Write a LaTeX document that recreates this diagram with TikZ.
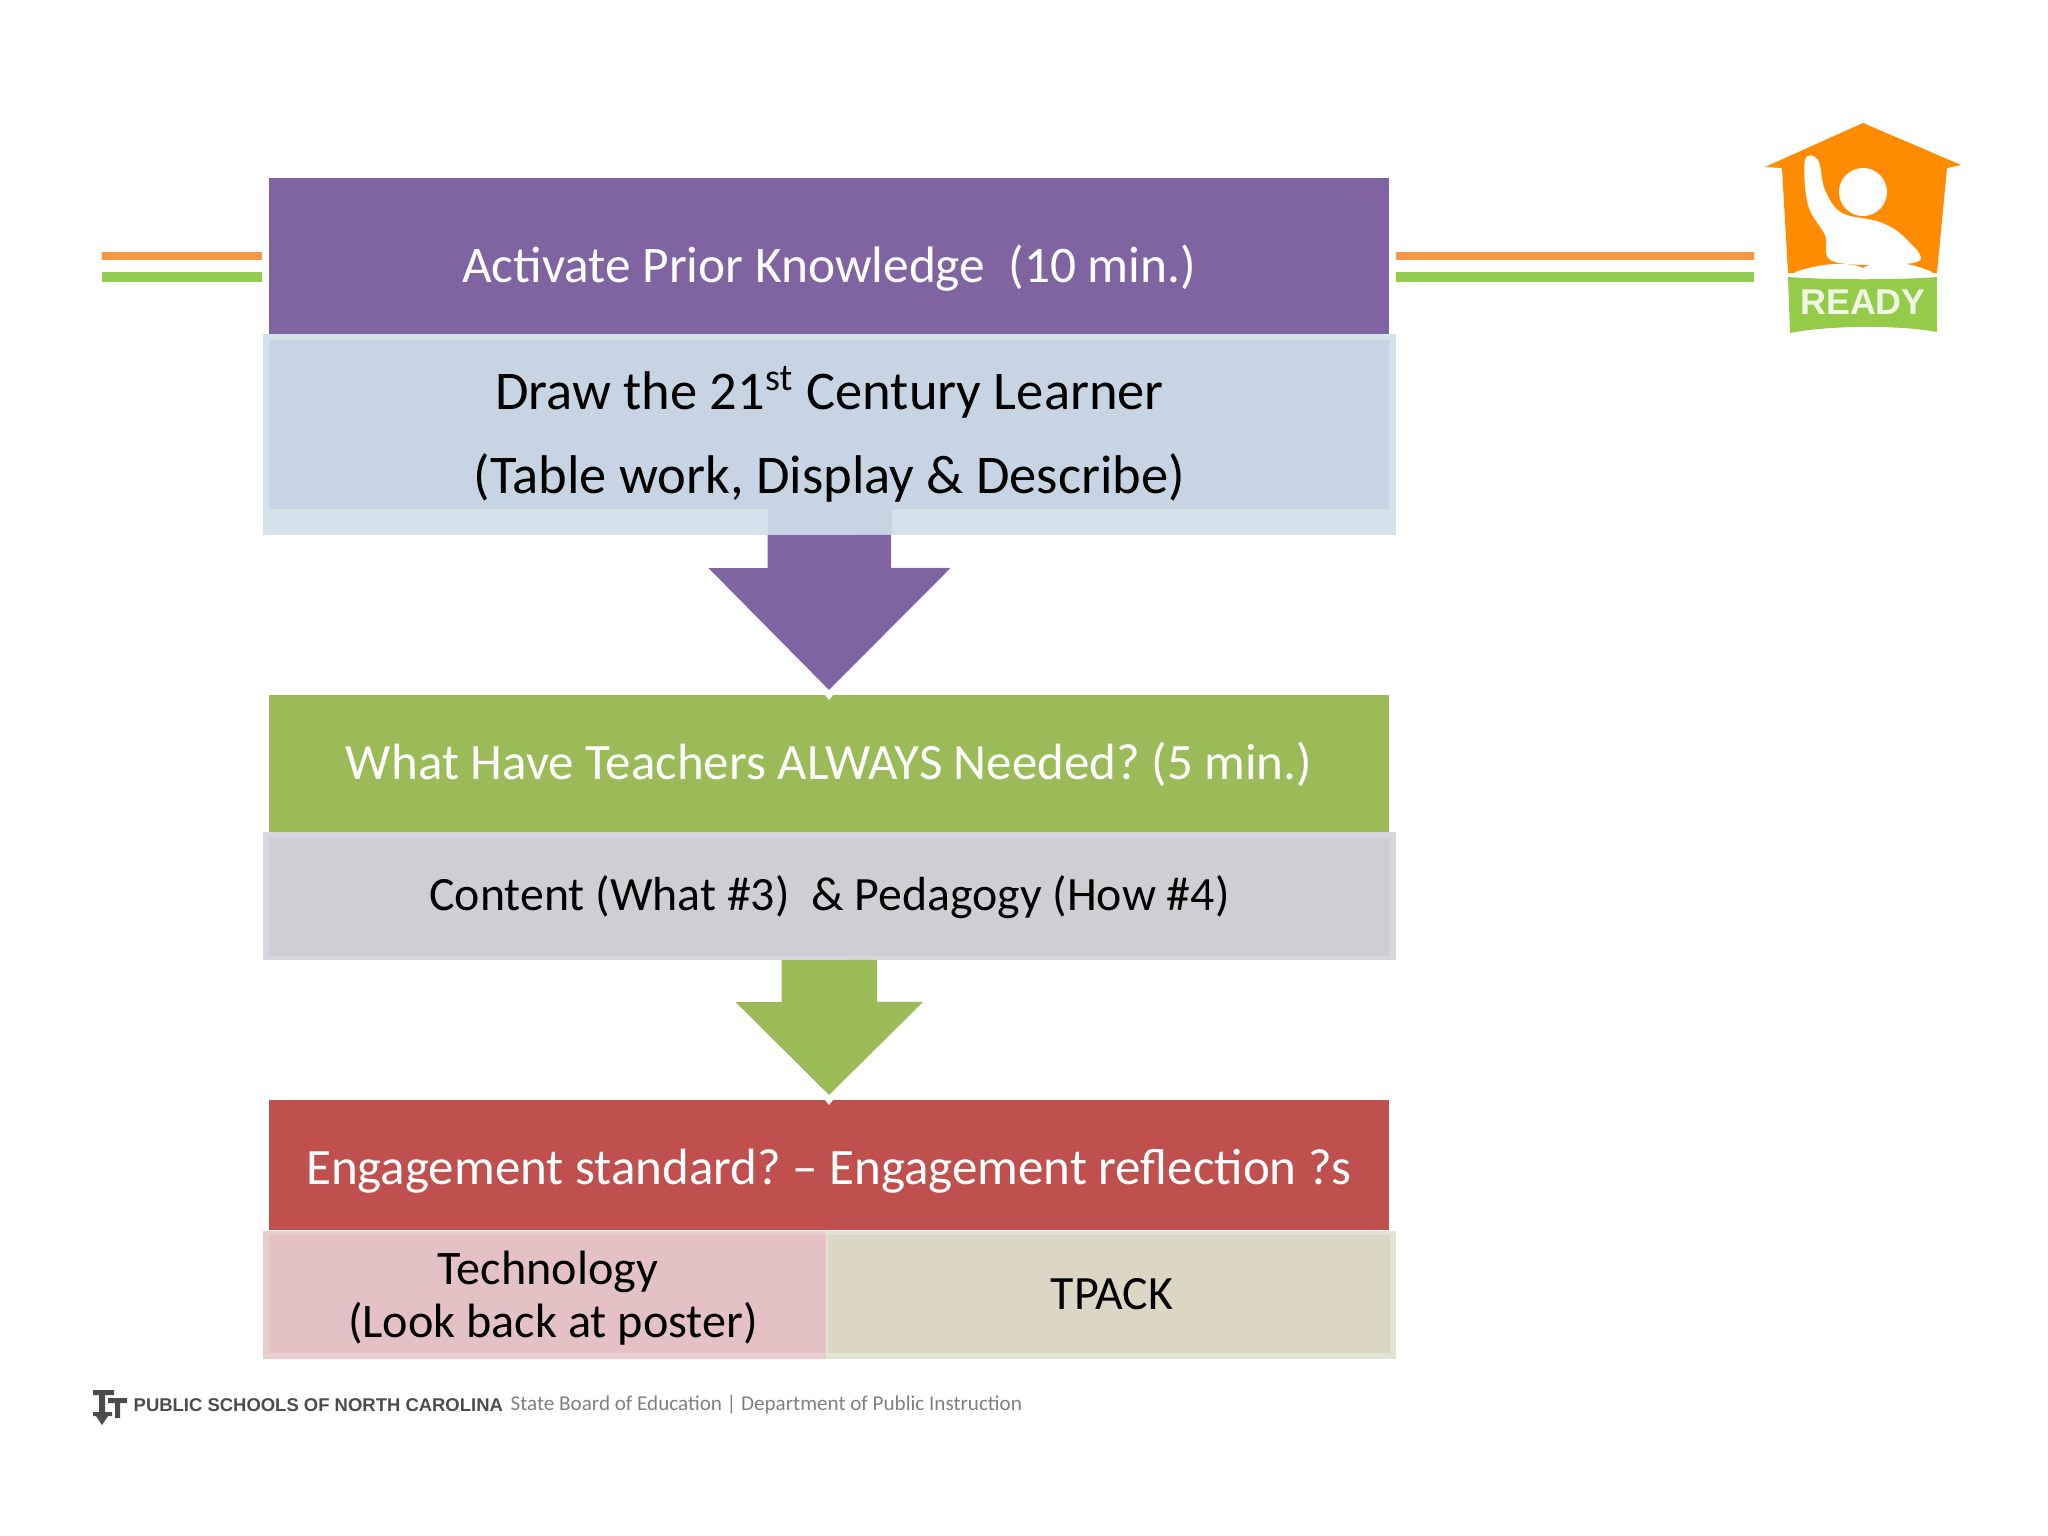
\documentclass[tikz,border=0pt]{standalone}
\usepackage{fontspec}
\setmainfont{Carlito}
\newfontfamily\footfont{Liberation Sans}
\usepackage{tikz}
\usetikzlibrary{calc}
\frenchspacing

\definecolor{phasepurple}{HTML}{8064A2}
\definecolor{phasegreen}{HTML}{9BBB59}
\definecolor{phasered}{HTML}{C0504D}
\definecolor{drawouter}{HTML}{D3E2EB}
\definecolor{drawinner}{HTML}{C7D4E3}
\definecolor{contentouter}{HTML}{D6D6DE}
\definecolor{contentinner}{HTML}{CFCFD3}
\definecolor{techouter}{HTML}{E8CCD0}
\definecolor{techinner}{HTML}{E3C1C4}
\definecolor{tpackouter}{HTML}{DFE5D2}
\definecolor{tpackinner}{HTML}{DCD7C4}
\definecolor{ruleorange}{HTML}{F79646}
\definecolor{rulegreen}{HTML}{92CC50}
\definecolor{logoorange}{HTML}{FF8C00}
\definecolor{logogreen}{HTML}{94CC4A}

\tikzset{
    panel/.style={inner sep=0pt, outer sep=0pt, align=center},
    headbox/.style={panel, text=white, minimum width=11.2cm},
    rule/.style={line width=#1}
}

\begin{document}
\begin{tikzpicture}[x=0.01cm, y=-0.01cm]
        \useasboundingbox (0,0) rectangle (2048,1536);

        % --- RULES ---
        \coordinate (LeftA) at (102,256);
        \coordinate (LeftB) at (262,256);
        \coordinate (LeftC) at (102,277);
        \coordinate (LeftD) at (262,277);
        \coordinate (RightA) at (1396,256);
        \coordinate (RightB) at (1754,256);
        \coordinate (RightC) at (1396,277);
        \coordinate (RightD) at (1754,277);
        \draw[ruleorange, rule=0.08cm] (LeftA) -- (LeftB);
        \draw[rulegreen, rule=0.1cm] (LeftC) -- (LeftD);
        \draw[ruleorange, rule=0.08cm] (RightA) -- (RightB);
        \draw[rulegreen, rule=0.1cm] (RightC) -- (RightD);

        % --- FIRST BLOCK ---
        \node[headbox, fill=phasepurple, minimum height=1.56cm, text height=0.52cm, text depth=0pt, font=\fontsize{14.6}{18}\selectfont] (activate) at (829,256) {Activate Prior Knowledge~ (10 min.)};
        \node[panel, fill=drawouter, minimum width=11.33cm, minimum height=2.01cm] (drawouterbox) at (829.5,434.5) {};
        \node[panel, fill=drawinner, minimum width=11.2cm, minimum height=1.69cm] (drawbox) at (829,424.5) {};
        \node[font=\fontsize{15.5}{23.9}\selectfont, align=center, inner sep=0pt] (drawtext) at (829.5,434.5) {Draw the 21\textsuperscript{st} Century Learner\\(Table work, Display \& Describe)};

        % --- SECOND BLOCK ---
        \node[headbox, fill=phasegreen, minimum height=1.37cm, text height=0.31cm, text depth=0pt, font=\fontsize{14.5}{18}\selectfont] (need) at (829,763.5) {What Have Teachers ALWAYS Needed? (5 min.)};
        \node[panel, fill=contentouter, minimum width=11.33cm, minimum height=1.28cm] (contentouterbox) at (829.5,896) {};
        \node[panel, fill=contentinner, minimum width=11.2cm, minimum height=1.18cm, font=\fontsize{13.6}{16}\selectfont] (content) at (829.5,897) {Content (What \#3)~ \& Pedagogy (How \#4)};

        % Arrow into second block
        \fill[drawinner] ($(drawouterbox.south)+(-62,-26)$) rectangle ($(drawouterbox.south)+(62,0)$);
        \fill[phasepurple] ($(drawouterbox.south)+(-62,0)$) -- ++(0,33) -- ++(-59,0) -- ($(need.north)+(0,-5)$) -- ++(121.5,-122) -- ++(-59.5,0) -- ++(0,-33) -- cycle;
        \fill[white] ($(need.north)+(-4,0)$) -- ($(need.north)+(4,0)$) -- ($(need.north)+(0,5)$) -- cycle;

        % --- THIRD BLOCK ---
        \node[headbox, fill=phasered, minimum height=1.3cm, text height=0.38cm, text depth=0pt, font=\fontsize{14.5}{18}\selectfont] (engage) at (829,1165) {Engagement standard? -- Engagement reflection ?s};
        \node[panel, fill=techouter, minimum width=5.63cm, minimum height=1.28cm] (techouterbox) at (544.5,1295) {};
        \node[panel, fill=techinner, minimum width=5.57cm, minimum height=1.18cm] (techinnerbox) at (547.5,1294) {};
        \node[panel, fill=tpackouter, minimum width=5.7cm, minimum height=1.28cm] (tpackouterbox) at (1111,1295) {};
        \node[panel, fill=tpackinner, minimum width=5.62cm, minimum height=1.18cm] (tpackinnerbox) at (1109,1294) {};
        \node[font=\fontsize{13.7}{15}\selectfont, align=center, inner sep=0pt] (tech) at (553,1298) {\hspace*{-0.1cm}Technology\\(Look back at poster)};
        \node[font=\fontsize{13.6}{16}\selectfont, inner sep=0pt] (tpack) at (1112,1294) {TPACK};

        % Arrow into third block
        \fill[phasegreen] ($(contentouterbox.south)+(-48,0)$) -- ++(0,42) -- ++(-46,0) -- ($(engage.north)+(0,-5)$) -- ++(94,-93) -- ++(-46,0) -- ++(0,-42) -- cycle;
        \fill[white] ($(engage.north)+(-4,0)$) -- ($(engage.north)+(4,0)$) -- ($(engage.north)+(0,5)$) -- cycle;

        % --- READY LOGO ---
        \fill[logoorange] (1863,123) -- (1961,165) -- (1947,168) -- (1937,273) -- (1788,273) -- (1782,168) -- (1765,167) -- cycle;
        \fill[white] (1863,192) circle (0.24cm);
        \fill[white] plot [smooth cycle, tension=0.6] coordinates { (1805,160) (1818,160) (1825,190) (1842,213) (1880,222) (1905,238) (1917,262) (1835,262) (1825,235) (1808,205) };
        \fill[white] (1795,272) .. controls (1825,262) and (1850,262) .. (1863,268) .. controls (1880,258) and (1910,262) .. (1932,272) -- (1932,280) -- (1795,280) -- cycle;
        \fill[logogreen] (1788,277) .. controls (1830,280) and (1900,280) .. (1937,277) -- (1937,332) .. controls (1900,325) and (1830,325) .. (1790,333) -- cycle;
        \node[text=white!85!logogreen, font=\fontsize{10.2}{12}\footfont\bfseries\selectfont, inner sep=0pt] (ready) at (1863,302) {READY};

        % --- FOOTER ---
        \fill[black!70] (93,1390) rectangle (114,1395) (99,1395) rectangle (105,1412) (108,1398) rectangle (127,1403) (115,1403) rectangle (120,1418) (93,1412) rectangle (112,1416) (96,1416) -- (108,1416) -- (102,1425) -- cycle;
        \node[anchor=west, inner sep=0pt, text=black!70, font=\fontsize{5.25}{6}\footfont\bfseries\selectfont] (schools) at (133,1405) {PUBLIC SCHOOLS OF NORTH CAROLINA};
        \node[anchor=west, inner sep=0pt, text=black!50, font=\fontsize{6}{8}\selectfont] (board) at (510,1405) {State Board of Education | Department of Public Instruction};
    \end{tikzpicture}
\end{document}
